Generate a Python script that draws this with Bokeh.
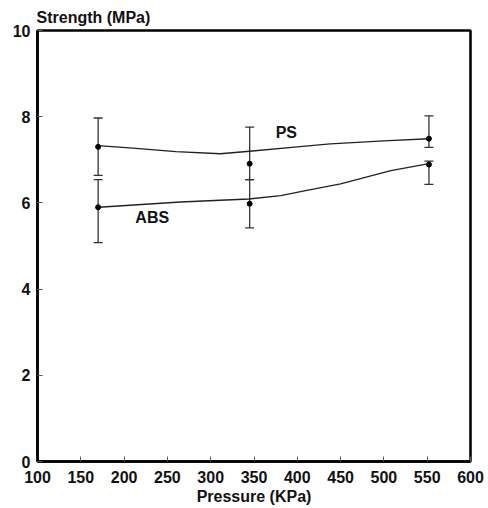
from bokeh.plotting import figure
from bokeh.models import ColumnDataSource, Whisker, TeeHead, Label, FixedTicker, Range1d, Title
from bokeh.embed import file_html
from bokeh.resources import INLINE

# Measured points (Pressure KPa)
pressure = [170, 345, 552]

ps_mean = [7.3, 6.91, 7.49]
ps_upper = [7.97, 7.76, 8.02]
ps_lower = [6.64, 6.54, 7.29]

abs_mean = [5.9, 5.98, 6.89]
abs_upper = [6.54, 6.54, 6.97]
abs_lower = [5.08, 5.42, 6.43]

# Fitted curves
ps_curve_x = [170, 210, 260, 311, 345, 400, 438, 500, 552]
ps_curve_y = [7.33, 7.27, 7.19, 7.14, 7.2, 7.3, 7.37, 7.44, 7.49]
abs_curve_x = [171, 265, 344, 381, 411, 450, 508, 552]
abs_curve_y = [5.9, 6.02, 6.09, 6.17, 6.29, 6.44, 6.75, 6.91]

x_ticks = [100, 150, 200, 250, 300, 350, 400, 450, 500, 550, 600]
y_ticks = [0, 2, 4, 6, 8, 10]

FONT = "Liberation Sans"

p = figure(width=488, height=508, output_backend="svg", toolbar_location=None,
           x_range=Range1d(100, 600), y_range=Range1d(0, 10),
           min_border_left=37, min_border_right=18, min_border_top=30, min_border_bottom=47)
p.title = Title(text="Strength (MPa)", align="left", offset=-1, standoff=9,
                text_font=FONT, text_font_style="bold", text_font_size="16px",
                text_color="#111111")
p.grid.visible = False
p.outline_line_color = "black"
p.outline_line_width = 2.5
p.background_fill_color = "white"
p.border_fill_color = "white"

for ax in (p.xaxis, p.yaxis):
    ax.axis_line_width = 2.5
    ax.axis_line_color = "black"
    ax.major_tick_in = 5
    ax.major_tick_out = 0
    ax.major_tick_line_color = "#555555"
    ax.major_tick_line_width = 1
    ax.minor_tick_line_color = None
    ax.major_label_text_font = FONT
    ax.major_label_text_font_style = "bold"
    ax.major_label_text_font_size = "16px"
    ax.major_label_text_color = "#111111"

p.xaxis.ticker = FixedTicker(ticks=x_ticks)
p.yaxis.ticker = FixedTicker(ticks=y_ticks)
p.xaxis.major_label_standoff = 9
p.yaxis.major_label_standoff = 7
p.xaxis.axis_label = "Pressure (KPa)"
p.xaxis.axis_label_text_font = FONT
p.xaxis.axis_label_text_font_style = "bold"
p.xaxis.axis_label_text_font_size = "16px"
p.xaxis.axis_label_standoff = 2
p.xaxis.axis_label_text_color = "#111111"

# curves
p.line(ps_curve_x, ps_curve_y, line_color="#222222", line_width=1.4)
p.line(abs_curve_x, abs_curve_y, line_color="#222222", line_width=1.4)

# error bars
for mean, up, lo in ((ps_mean, ps_upper, ps_lower), (abs_mean, abs_upper, abs_lower)):
    src = ColumnDataSource(dict(x=pressure, m=mean, u=up, l=lo))
    w = Whisker(base="x", upper="u", lower="l", source=src, dimension="height",
                line_color="#333333", line_width=1.3,
                upper_head=TeeHead(size=9, line_color="#333333", line_width=1.3),
                lower_head=TeeHead(size=9, line_color="#333333", line_width=1.3))
    p.add_layout(w)
    p.scatter("x", "m", source=src, size=5, color="black")

p.add_layout(Label(x=375, y=7.63, text="PS", text_font=FONT, text_font_style="bold",
                   text_font_size="16px", text_color="#111111", text_baseline="alphabetic"))
p.add_layout(Label(x=213, y=5.65, text="ABS", text_font=FONT, text_font_style="bold",
                   text_font_size="16px", text_color="#111111", text_baseline="alphabetic"))

open("out.html", "w").write(file_html(p, INLINE))
